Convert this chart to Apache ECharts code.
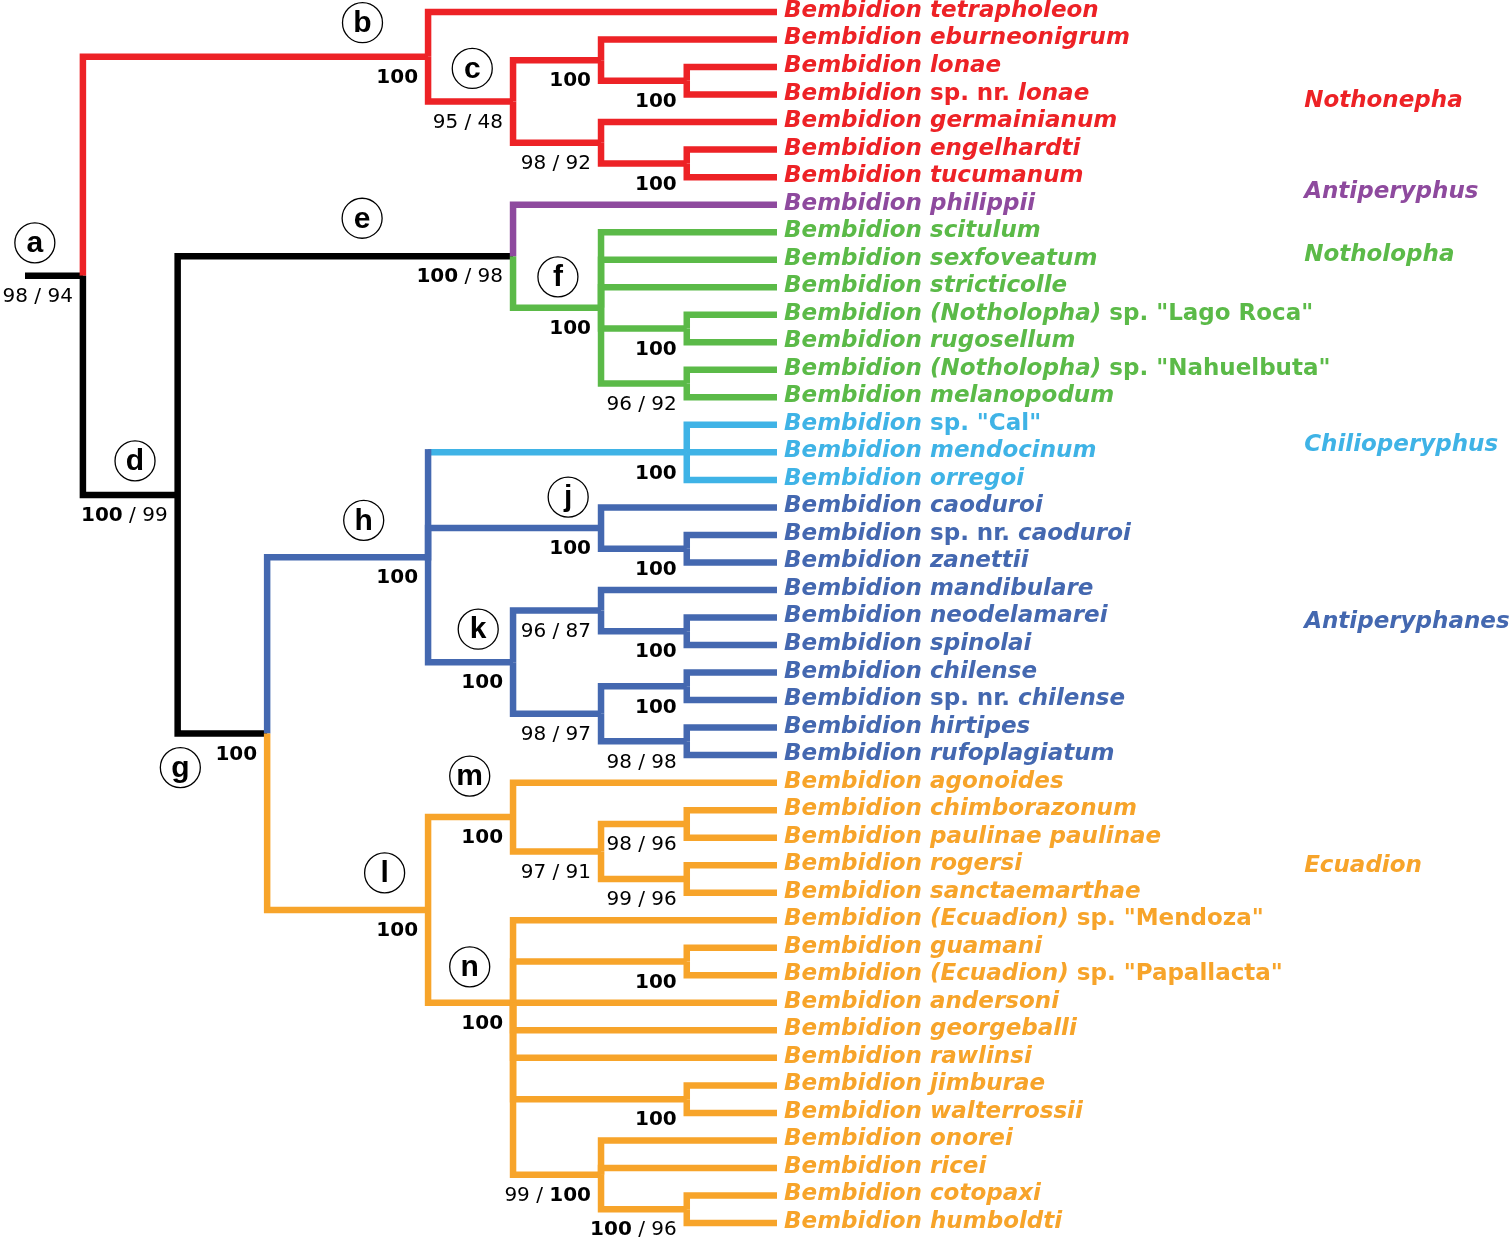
<!DOCTYPE html>
<html><head><meta charset="utf-8">
<script src="https://cdn.jsdelivr.net/npm/echarts@6/dist/echarts.min.js"></script>
<style>html,body{margin:0;padding:0;background:#fff}#c{width:1512px;height:1237px}</style>
</head><body><div id="c"></div><script>
// ---------------- DATA ----------------
const leafNames = [
 'Bembidion tetrapholeon','Bembidion eburneonigrum','Bembidion lonae','Bembidion sp. nr. lonae','Bembidion germainianum','Bembidion engelhardti','Bembidion tucumanum',
 'Bembidion philippii',
 'Bembidion scitulum','Bembidion sexfoveatum','Bembidion stricticolle','Bembidion (Notholopha) sp. "Lago Roca"','Bembidion rugosellum','Bembidion (Notholopha) sp. "Nahuelbuta"','Bembidion melanopodum',
 'Bembidion sp. "Cal"','Bembidion mendocinum','Bembidion orregoi',
 'Bembidion caoduroi','Bembidion sp. nr. caoduroi','Bembidion zanettii','Bembidion mandibulare','Bembidion neodelamarei','Bembidion spinolai','Bembidion chilense','Bembidion sp. nr. chilense','Bembidion hirtipes','Bembidion rufoplagiatum',
 'Bembidion agonoides','Bembidion chimborazonum','Bembidion paulinae paulinae','Bembidion rogersi','Bembidion sanctaemarthae','Bembidion (Ecuadion) sp. "Mendoza"','Bembidion guamani','Bembidion (Ecuadion) sp. "Papallacta"','Bembidion andersoni','Bembidion georgeballi','Bembidion rawlinsi','Bembidion jimburae','Bembidion walterrossii','Bembidion onorei','Bembidion ricei','Bembidion cotopaxi','Bembidion humboldti'];
const leafParent = ['b','c1','c1a','c1a','c2','c2a','c2a','e','f','f','f','f1','f1','f2','f2','chil','chil','chil','j','j1','j1','k1','k1a','k1a','k2a','k2a','k2b','k2b','m','m1a','m1a','m1b','m1b','n','n1','n1','n','n','n','n2','n2','n3','n3','n3a','n3a'];
const leafClade = ['Nothonepha','Nothonepha','Nothonepha','Nothonepha','Nothonepha','Nothonepha','Nothonepha','Antiperyphus',
 'Notholopha','Notholopha','Notholopha','Notholopha','Notholopha','Notholopha','Notholopha',
 'Chilioperyphus','Chilioperyphus','Chilioperyphus',
 'Antiperyphanes','Antiperyphanes','Antiperyphanes','Antiperyphanes','Antiperyphanes','Antiperyphanes','Antiperyphanes','Antiperyphanes','Antiperyphanes','Antiperyphanes',
 'Ecuadion','Ecuadion','Ecuadion','Ecuadion','Ecuadion','Ecuadion','Ecuadion','Ecuadion','Ecuadion','Ecuadion','Ecuadion','Ecuadion','Ecuadion','Ecuadion','Ecuadion','Ecuadion','Ecuadion'];

const nodeIds    = ['a','b','c','c1','c1a','c2','c2a','d','e','f','f1','f2','g','h','chil','j','j1','k','k1','k1a','k2','k2a','k2b','l','m','m1','m1a','m1b','n','n1','n2','n3','n3a'];
const nodeParent = [null,'a','b','c','c1','c','c2','a','d','e','f','f','d','g','h','h','j','h','k','k1','k','k2','k2','g','l','m','m1','m1','l','n','n','n','n3'];
// relative depth of each branching point (tips = 100, root stub start = 0)
const nodeDepth  = [7.7,53.6,64.9,76.6,88.0,76.6,88.0,20.3,64.9,76.6,88.0,88.0,32.2,53.6,88.0,76.6,88.0,64.9,76.6,88.0,76.6,88.0,88.0,53.6,64.9,76.6,88.0,88.0,64.9,88.0,88.0,76.6,88.0];
const nodeClade  = ['','Nothonepha','Nothonepha','Nothonepha','Nothonepha','Nothonepha','Nothonepha','','','Notholopha','Notholopha','Notholopha','','Antiperyphanes','Chilioperyphus','Antiperyphanes','Antiperyphanes','Antiperyphanes','Antiperyphanes','Antiperyphanes','Antiperyphanes','Antiperyphanes','Antiperyphanes','Ecuadion','Ecuadion','Ecuadion','Ecuadion','Ecuadion','Ecuadion','Ecuadion','Ecuadion','Ecuadion','Ecuadion'];
const nodeStemClade = [null,null,null,null,null,null,null,null,null,null,null,null,null,null,'Antiperyphanes',null,null,null,null,null,null,null,null,null,null,null,null,null,null,null,null,null,null];
// polytomy n is drawn at the row of leaf "andersoni" (index 36)
const nodeRowFixed = {n: 36};
// support values: *x = bold, plain = regular
const nodeSupport = ['98 / 94','*100','95 / 48','*100','*100','98 / 92','*100','*100 / 99','*100 / 98','*100','*100','96 / 92','*100','*100','*100','*100','*100','*100','96 / 87','*100','98 / 97','*100','98 / 98','*100','*100','97 / 91','98 / 96','99 / 96','*100','*100','*100','99 / *100','*100 / 96'];
const nodeLetter  = ['a','b','c','','','','','d','e','f','','','g','h','','j','','k','','','','','','l','m','','','','n','','','',''];

const cladeNames = ['Nothonepha','Antiperyphus','Notholopha','Chilioperyphus','Antiperyphanes','Ecuadion'];

// ---------------- LAYOUT / STYLE ----------------
const tipDepth = 100, rootDepth = 0;
const cladeColors = {'':'#000000', Nothonepha:'#ED2226', Antiperyphus:'#8E4A9E', Notholopha:'#5BBA48', Chilioperyphus:'#3FB3E6', Antiperyphanes:'#4468B0', Ecuadion:'#F7A42A'};
const cladeLabelPos = {Nothonepha:[170.1,3.23], Antiperyphus:[170.1,6.54], Notholopha:[170.1,8.83], Chilioperyphus:[170.1,15.73], Antiperyphanes:[170.1,22.17], Ecuadion:[170.1,31.03]};
// circle letter placement: [fraction along incoming branch, pixel dy]
const letterPlace = {a:[0.17,-33], b:[0.81,-34], c:[0.52,-33], d:[0.55,-34], e:[0.55,-38], f:[0.51,-31], g:[0.03,34], h:[0.6,-37], j:[0.81,-31], k:[0.59,-33], l:[0.73,-37], m:[0.49,-41], n:[0.49,-36]};
const LW = 6.5;
const FONT = 'DejaVu Sans';
const LEAF_FS = 23, CLADE_FS = 23, SUP_FS = 20;

// ---------------- TREE GEOMETRY ----------------
const nodeRow = {};
function rowOf(id){
  if (nodeRow[id] !== undefined) return nodeRow[id];
  if (nodeRowFixed[id] !== undefined) { nodeRow[id] = nodeRowFixed[id]; return nodeRow[id]; }
  const kids = [];
  leafParent.forEach((p, li) => { if (p === id) kids.push(li); });
  nodeParent.forEach((p, ni) => { if (p === id) kids.push(rowOf(nodeIds[ni])); });
  nodeRow[id] = (Math.min(...kids) + Math.max(...kids)) / 2;
  return nodeRow[id];
}
nodeIds.forEach(rowOf);
const depthOf = id => nodeDepth[nodeIds.indexOf(id)];

const edges = [];
edges.push({px: rootDepth, pr: rowOf('a'), cx: depthOf('a'), cr: rowOf('a'), color: cladeColors[''], stem: cladeColors['']});
nodeIds.forEach((id, i) => {
  const p = nodeParent[i]; if (!p) return;
  const col = cladeColors[nodeClade[i]];
  const stem = nodeStemClade[i] ? cladeColors[nodeStemClade[i]] : col;
  edges.push({px: depthOf(p), pr: rowOf(p), cx: nodeDepth[i], cr: rowOf(id), color: col, stem: stem});
});
leafNames.forEach((n, li) => {
  const p = leafParent[li]; const col = cladeColors[leafClade[li]];
  edges.push({px: depthOf(p), pr: rowOf(p), cx: tipDepth, cr: li, color: col, stem: col});
});

// ---------------- TEXT HELPERS ----------------
function leafRich(name){
  let inQ = false; const parts = [];
  name.split(' ').forEach(tok => {
    const q = tok.startsWith('"');
    const upright = inQ || q || tok === 'sp.' || tok === 'nr.';
    if (q) inQ = true;
    if (tok.endsWith('"') && !(q && tok.length === 1)) { if (!(q && tok.indexOf('"') === tok.lastIndexOf('"'))) inQ = false; }
    parts.push('{' + (upright ? 'u' : 'i') + '|' + tok + '}');
  });
  return parts.join('{s| }');
}
function supportRich(s){
  return s.split(' ').map(tok => {
    if (tok.startsWith('*')) return '{b|' + tok.slice(1) + '}';
    return '{r|' + tok + '}';
  }).join('{r| }');
}

// ---------------- CHART ----------------
const chart = echarts.init(document.getElementById('c'));
const option = {
  animation: false,
  backgroundColor: '#ffffff',
  grid: {left: 25, width: 752, top: 12, height: 1211},
  xAxis: {type: 'value', min: 0, max: 100, show: false},
  yAxis: {type: 'value', min: 0, max: 44, inverse: true, show: false},
  series: [
    { // branches
      type: 'custom', clip: false,
      data: edges.map((e, i) => [e.cx, e.cr, i]),
      renderItem: (params, api) => {
        const e = edges[api.value(2)];
        const P = api.coord([e.px, e.pr]), V = api.coord([e.px, e.cr]), C = api.coord([e.cx, e.cr]);
        const children = [];
        if (e.stem === e.color) {
          children.push({type: 'polyline', shape: {points: [P, V, C]}, style: {stroke: e.color, lineWidth: LW, fill: null, lineJoin: 'miter', lineCap: 'butt'}});
        } else {
          children.push({type: 'line', shape: {x1: V[0], y1: V[1], x2: C[0], y2: C[1]}, style: {stroke: e.color, lineWidth: LW, lineCap: 'butt'}});
          children.push({type: 'line', shape: {x1: P[0], y1: P[1], x2: V[0], y2: V[1]}, style: {stroke: e.stem, lineWidth: LW, lineCap: 'square'}});
        }
        return {type: 'group', children};
      }
    },
    { // leaf names
      type: 'custom', clip: false,
      data: leafNames.map((n, i) => [tipDepth, i, i]),
      renderItem: (params, api) => {
        const i = api.value(2);
        const pt = api.coord([tipDepth, i]);
        const col = cladeColors[leafClade[i]];
        const base = {fontFamily: FONT, fontWeight: 'bold', fontSize: LEAF_FS, fill: col};
        return {type: 'text', style: {
          text: leafRich(leafNames[i]), x: pt[0] + 7, y: pt[1] - 1, align: 'left', verticalAlign: 'middle',
          fontFamily: FONT, fontWeight: 'bold', fontSize: LEAF_FS, fill: col,
          rich: {i: Object.assign({fontStyle: 'italic'}, base), u: Object.assign({fontStyle: 'normal'}, base), s: Object.assign({fontStyle: 'normal'}, base)}
        }};
      }
    },
    { // support values
      type: 'custom', clip: false,
      data: nodeIds.map((id, i) => [nodeDepth[i], rowOf(id), i]),
      renderItem: (params, api) => {
        const i = api.value(2);
        const pt = api.coord([nodeDepth[i], rowOf(nodeIds[i])]);
        return {type: 'text', style: {
          text: supportRich(nodeSupport[i]), x: pt[0] - 10, y: pt[1] + 21, align: 'right', verticalAlign: 'middle',
          fontFamily: FONT, fontSize: SUP_FS, fill: '#000',
          rich: {b: {fontFamily: FONT, fontWeight: 'bold', fontSize: SUP_FS, fill: '#000'}, r: {fontFamily: FONT, fontWeight: 'normal', fontSize: SUP_FS, fill: '#000'}}
        }};
      }
    },
    { // circled node letters
      type: 'custom', clip: false,
      data: nodeIds.map((id, i) => [nodeDepth[i], rowOf(id), i]).filter(d => nodeLetter[d[2]]),
      renderItem: (params, api) => {
        const i = api.value(2), id = nodeIds[i];
        const p = nodeParent[i];
        const startD = p ? depthOf(p) : rootDepth;
        const pl = letterPlace[id];
        const d = startD + (nodeDepth[i] - startD) * pl[0];
        const pt = api.coord([d, rowOf(id)]);
        const cx = pt[0], cy = pt[1] + pl[1];
        return {type: 'group', children: [
          {type: 'circle', shape: {cx, cy, r: 20}, style: {fill: '#fff', stroke: '#000', lineWidth: 1.3}},
          {type: 'text', style: {text: nodeLetter[i], x: cx, y: cy + 1, align: 'center', verticalAlign: 'middle', fontFamily: 'Liberation Sans', fontWeight: 'bold', fontSize: 30, fill: '#000'}}
        ]};
      }
    },
    { // clade names
      type: 'custom', clip: false,
      data: cladeNames.map((c, i) => [cladeLabelPos[c][0], cladeLabelPos[c][1], i]),
      renderItem: (params, api) => {
        const c = cladeNames[api.value(2)];
        const pt = api.coord(cladeLabelPos[c]);
        return {type: 'text', style: {text: c, x: pt[0], y: pt[1], align: 'left', verticalAlign: 'middle', fontFamily: FONT, fontWeight: 'bold', fontStyle: 'italic', fontSize: CLADE_FS, fill: cladeColors[c]}};
      }
    }
  ]
};
chart.setOption(option);
</script></body></html>
